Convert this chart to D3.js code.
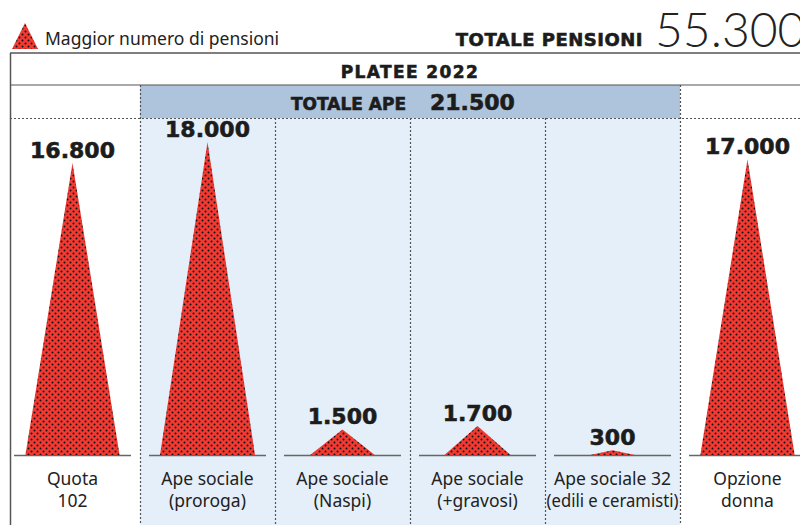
<!DOCTYPE html>
<html>
<head>
<meta charset="utf-8">
<script src="https://cdn.jsdelivr.net/npm/d3@7"></script>
<style>
  body { margin: 0; background: #fff; }
  svg { display: block; }
</style>
</head>
<body>
<svg id="chart" width="800" height="525"></svg>
<script>
// pensioni anticipate, platee 2022
const categories = ["quota102", "proroga", "naspi", "gravosi", "ape32", "donna"]
const catLabels = [
  ["Quota", "102"],
  ["Ape sociale", "(proroga)"],
  ["Ape sociale", "(Naspi)"],
  ["Ape sociale", "(+gravosi)"],
  ["Ape sociale 32", "(edili e ceramisti)"],
  ["Opzione", "donna"]
]
const values = [16800, 18000, 1500, 1700, 300, 17000]
const inApe = [false, true, true, true, true, false]

const it = d3.formatLocale({decimal: ",", thousands: ".", grouping: [3], currency: ["", " €"]})
const fmt = it.format(",")

const totalPensioni = d3.sum(values)
const totalApe = d3.sum(values.filter((v, i) => inApe[i]))

const svg = d3.select("#chart")
const W = 800, H = 525
const baseY = 455.5

const x = d3.scaleBand().domain(categories).range([5, 815]).padding(0)
const y = d3.scaleLinear().domain([0, 18000]).range([baseY, 142])
const w = d3.scaleLog().domain([300, 18000]).range([45, 95])

const red = "#ee3b33", ink = "#1c1c1c", line = "#555"

// heavy caption text (bold + a thin stroke to fatten it)
function heavy(sel, size) {
  return sel.attr("font-family", "DejaVu Sans").attr("font-weight", "bold").attr("font-size", size)
      .attr("fill", ink).attr("stroke", ink).attr("stroke-width", 0.6)
}

// dotted red fill
const defs = svg.append("defs")
const pat = defs.append("pattern")
    .attr("id", "dots").attr("patternUnits", "userSpaceOnUse")
    .attr("width", 6).attr("height", 6)
pat.append("rect").attr("width", 6).attr("height", 6).attr("fill", red)
pat.append("circle").attr("cx", 1.5).attr("cy", 1.5).attr("r", 1).attr("fill", "#111")
pat.append("circle").attr("cx", 4.5).attr("cy", 4.5).attr("r", 1).attr("fill", "#111")

// backgrounds for the APE block
const apeCats = categories.filter((c, i) => inApe[i])
const apeX0 = x(apeCats[0]), apeX1 = x(apeCats[apeCats.length - 1]) + x.bandwidth()
svg.append("rect").attr("x", apeX0).attr("y", 118).attr("width", apeX1 - apeX0).attr("height", H - 118)
    .attr("fill", "#e5eff9")
svg.append("rect").attr("x", apeX0).attr("y", 85).attr("width", apeX1 - apeX0).attr("height", 33)
    .attr("fill", "#adc4dc")

// frame
svg.append("line").attr("x1", 10).attr("x2", W).attr("y1", 53).attr("y2", 53)
    .attr("stroke", line).attr("stroke-width", 1.5)
svg.append("line").attr("x1", 10).attr("x2", W).attr("y1", 85).attr("y2", 85)
    .attr("stroke", line).attr("stroke-width", 1.2)
svg.append("line").attr("x1", 10.5).attr("x2", 10.5).attr("y1", 53).attr("y2", H)
    .attr("stroke", line).attr("stroke-width", 1.5)
svg.append("line").attr("x1", 10).attr("x2", W).attr("y1", 118.5).attr("y2", 118.5)
    .attr("stroke", line).attr("stroke-width", 1).attr("stroke-dasharray", "2,2")

// dotted column separators
categories.slice(1).forEach(c => {
  const xx = Math.round(x(c)) + 0.5
  const top = (c === apeCats[0] || c === "donna") ? 85 : 118
  svg.append("line").attr("x1", xx).attr("x2", xx).attr("y1", top).attr("y2", H)
      .attr("stroke", line).attr("stroke-width", 1.2).attr("stroke-dasharray", "2,2")
})

// header texts
svg.append("text").attr("x", 410).attr("y", 78).attr("text-anchor", "middle")
    .call(heavy, 17).attr("letter-spacing", 1.4).text("PLATEE 2022")
svg.append("text").attr("x", 406).attr("y", 110).attr("text-anchor", "end")
    .call(heavy, 17).text("TOTALE APE")
svg.append("text").attr("x", 430).attr("y", 110)
    .call(heavy, 22).text(fmt(totalApe))

// legend + total
svg.append("path").attr("d", "M12,49 L25,23 L38,49 Z").attr("fill", "url(#dots)")
svg.append("text").attr("x", 45).attr("y", 45)
    .attr("font-family", "Noto Sans").attr("font-size", 17.5).attr("fill", "#222")
    .text("Maggior numero di pensioni")
svg.append("text").attr("x", 643).attr("y", 46).attr("text-anchor", "end")
    .call(heavy, 18).attr("letter-spacing", 0.5).text("TOTALE PENSIONI")
svg.append("text").attr("x", 655).attr("y", 47)
    .attr("font-family", "Lato").attr("font-weight", 300).attr("font-size", 48)
    .attr("fill", "#222").text(fmt(totalPensioni))

// columns
const col = svg.selectAll("g.col").data(categories.map((c, i) => ({c, v: values[i], lab: catLabels[i]})))
  .enter().append("g").attr("class", "col")

col.append("line")
    .attr("x1", d => x(d.c) + 9).attr("x2", d => x(d.c) + x.bandwidth() - 9)
    .attr("y1", baseY).attr("y2", baseY)
    .attr("stroke", "#666").attr("stroke-width", 1.5)

col.append("path")
    .attr("d", d => {
      const cx = x(d.c) + x.bandwidth() / 2, hw = w(d.v) / 2
      return `M${cx - hw},${baseY - 0.5} L${cx},${y(d.v)} L${cx + hw},${baseY - 0.5} Z`
    })
    .attr("fill", "url(#dots)")

col.append("text")
    .attr("x", d => x(d.c) + x.bandwidth() / 2).attr("y", d => y(d.v) - 5)
    .attr("text-anchor", "middle")
    .call(heavy, 22).text(d => fmt(d.v))

col.each(function(d) {
  const t = d3.select(this).append("text")
      .attr("text-anchor", "middle")
      .attr("font-family", "Noto Sans").attr("font-size", 17.5).attr("fill", "#222")
  d.lab.forEach((s, j) => {
    t.append("tspan").attr("x", x(d.c) + x.bandwidth() / 2).attr("y", 485 + j * 22)
        .attr("textLength", s.length > 16 ? 132 : null)
        .attr("lengthAdjust", "spacingAndGlyphs")
        .text(s)
  })
})
</script>
</body>
</html>
